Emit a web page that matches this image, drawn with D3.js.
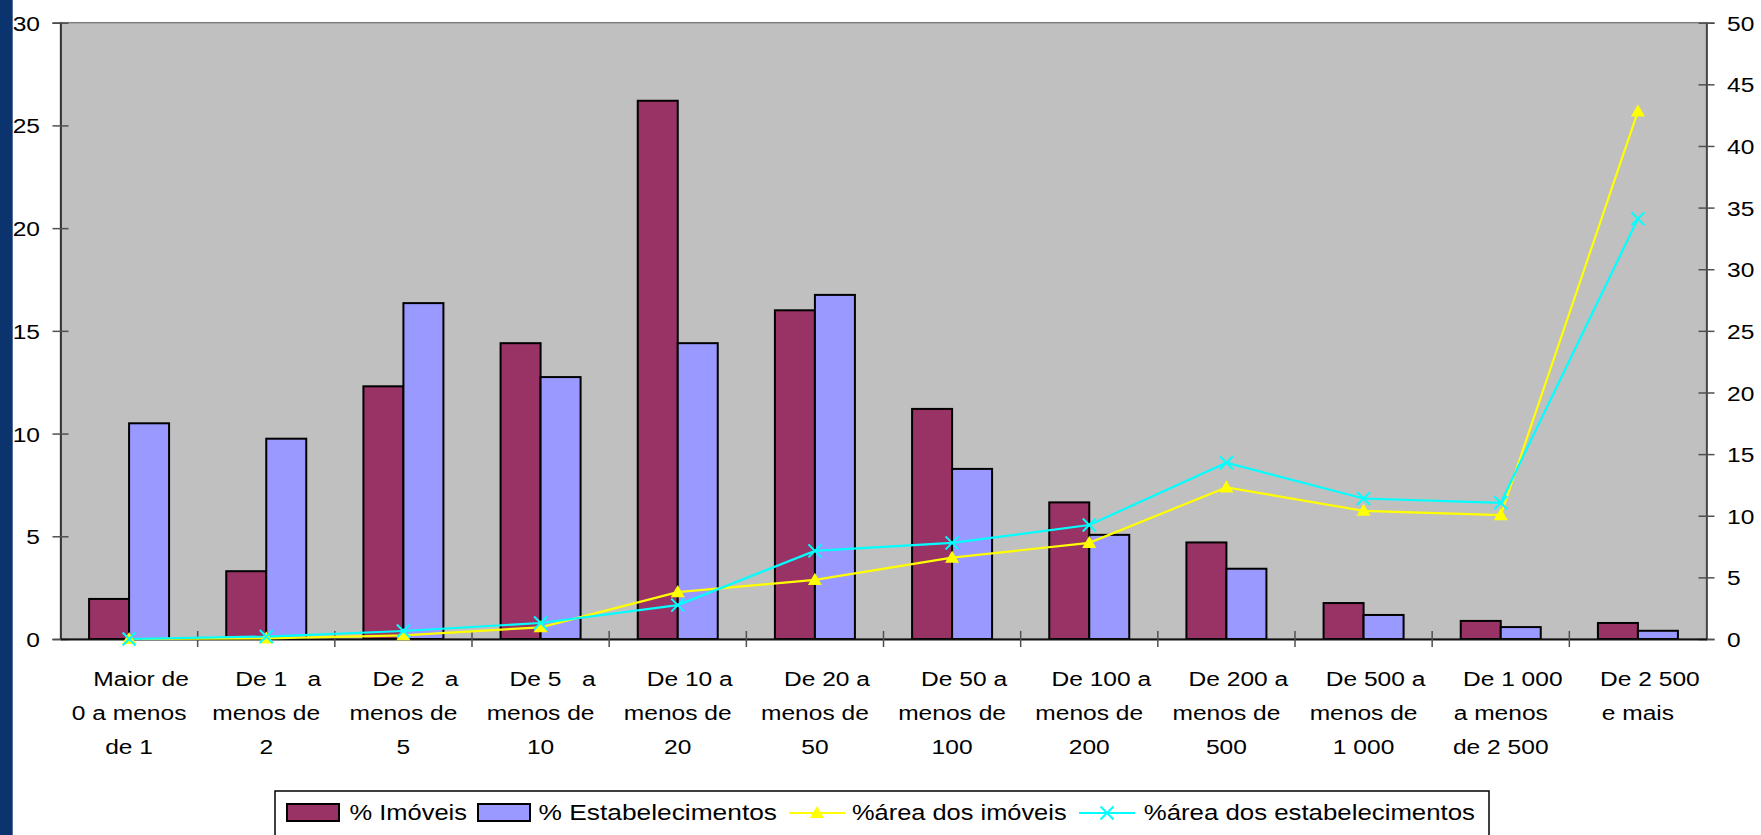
<!DOCTYPE html>
<html><head><meta charset="utf-8">
<script src="https://cdn.jsdelivr.net/npm/d3@7"></script>
<style>
html,body{margin:0;padding:0;background:#fff;overflow:hidden}
text{font-family:"Liberation Sans",Arial,sans-serif;fill:#000;white-space:pre}
</style>
</head><body>
<svg id="c" width="1761" height="835"></svg>
<script>
// ---- data ----
const categories = [
  "Maior de|0 a menos|de 1",
  "De 1   a|menos de|2",
  "De 2   a|menos de|5",
  "De 5   a|menos de|10",
  "De 10 a|menos de|20",
  "De 20 a|menos de|50",
  "De 50 a|menos de|100",
  "De 100 a|menos de|200",
  "De 200 a|menos de|500",
  "De 500 a|menos de|1 000",
  "De 1 000|a menos|de 2 500",
  "De 2 500|e mais"
];
const leftTicks = [0, 5, 10, 15, 20, 25, 30];
const rightTicks = [0, 5, 10, 15, 20, 25, 30, 35, 40, 45, 50];
const pctImoveis = [1.95, 3.3, 12.3, 14.4, 26.2, 16.0, 11.2, 6.65, 4.7, 1.75, 0.88, 0.78];
const pctEstab = [10.5, 9.75, 16.35, 12.75, 14.4, 16.75, 8.28, 5.07, 3.42, 1.17, 0.58, 0.4];
const areaImoveis = [0.0, 0.05, 0.3, 0.95, 3.8, 4.8, 6.6, 7.8, 12.3, 10.4, 10.05, 42.8];
const areaEstab = [0.0, 0.2, 0.65, 1.3, 2.75, 7.15, 7.8, 9.25, 14.3, 11.4, 11.05, 34.1];
const seriesNames = ["% Imóveis", "% Estabelecimentos", "%área dos imóveis", "%área dos estabelecimentos"];
const colors = {im: "#993366", es: "#9999ff", ai: "#ffff00", ae: "#00ffff"};

// ---- layout ----
const W = 1761, H = 835;
const P = {l: 60.5, t: 22.7, r: 1706.5, b: 639};
const SX = 1.17, FS = 21;
const svg = d3.select("#c");

svg.append("rect").attr("x", 0).attr("y", 0).attr("width", 12.7).attr("height", H).attr("fill", "#0b346e");

const x0 = d3.scaleBand().domain(d3.range(categories.length)).range([P.l, P.r]).padding(0);
const x1 = d3.scaleBand().domain(["im", "es"]).range([(x0.bandwidth() - 80) / 2, (x0.bandwidth() + 80) / 2]);
const yL = d3.scaleLinear().domain([0, 30]).range([P.b, P.t]);
const yR = d3.scaleLinear().domain([0, 50]).range([P.b, P.t]);

svg.append("rect").attr("x", P.l).attr("y", P.t).attr("width", P.r - P.l).attr("height", P.b - P.t)
  .attr("fill", "#c0c0c0").attr("stroke", "#808080").attr("stroke-width", 1.5);

// bars
const groups = svg.append("g").selectAll("g").data(categories).join("g")
  .attr("transform", (d, i) => `translate(${x0(i)},0)`);
groups.append("rect").attr("x", x1("im")).attr("width", x1.bandwidth())
  .attr("y", (d, i) => yL(pctImoveis[i])).attr("height", (d, i) => yL(0) - yL(pctImoveis[i]))
  .attr("fill", colors.im).attr("stroke", "#000").attr("stroke-width", 2);
groups.append("rect").attr("x", x1("es")).attr("width", x1.bandwidth())
  .attr("y", (d, i) => yL(pctEstab[i])).attr("height", (d, i) => yL(0) - yL(pctEstab[i]))
  .attr("fill", colors.es).attr("stroke", "#000").attr("stroke-width", 2);

// left axis
const gL = svg.append("g").attr("transform", `translate(${P.l},0)`)
  .call(d3.axisLeft(yL).tickValues(leftTicks).tickSize(8));
gL.select(".domain").attr("stroke", "#1a1a1a").attr("stroke-width", 1.5);
gL.selectAll(".tick line").attr("x1", 8).attr("x2", -8).attr("stroke", "#505050").attr("stroke-width", 1.5);
gL.selectAll(".tick text").attr("x", 0).attr("dy", "0.36em").attr("font-size", FS)
  .attr("text-anchor", "end").attr("transform", `translate(-20.5,0) scale(${SX},1)`);

// right axis
const gR = svg.append("g").attr("transform", `translate(${P.r},0)`)
  .call(d3.axisRight(yR).tickValues(rightTicks).tickSize(8));
gR.select(".domain").attr("stroke", "#303030").attr("stroke-width", 1.5);
gR.selectAll(".tick line").attr("x1", -8).attr("x2", 8).attr("stroke", "#505050").attr("stroke-width", 1.5);
gR.selectAll(".tick text").attr("x", 0).attr("dy", "0.36em").attr("font-size", FS)
  .attr("text-anchor", "start").attr("transform", `translate(20.5,0) scale(${SX},1)`);

// bottom axis with category labels
const gB = svg.append("g").attr("transform", `translate(0,${P.b})`)
  .call(d3.axisBottom(x0).tickSize(0).tickFormat(""));
gB.select(".domain").attr("stroke", "#111").attr("stroke-width", 2);
const baselines = [46.5, 80.5, 114.5];
gB.selectAll(".tick").each(function (d) {
  const lines = categories[d].split("|");
  const g = d3.select(this);
  lines.forEach((ln, j) => {
    g.append("text").attr("font-size", FS).attr("text-anchor", "middle")
      .attr("transform", `translate(${j === 0 ? 12 : 0},${baselines[j]}) scale(${SX},1)`)
      .text(ln);
  });
});
// boundary ticks
gB.append("g").selectAll("line").data(d3.range(1, categories.length)).join("line")
  .attr("x1", i => x0(i)).attr("x2", i => x0(i)).attr("y1", -8).attr("y2", 8)
  .attr("stroke", "#505050").attr("stroke-width", 1.5);

// lines
const cx = i => x0(i) + x0.bandwidth() / 2;
const line = d3.line().x((d, i) => cx(i)).y(d => yR(d));
svg.append("path").datum(areaImoveis).attr("d", line).attr("fill", "none")
  .attr("stroke", colors.ai).attr("stroke-width", 2.2);
svg.append("path").datum(areaEstab).attr("d", line).attr("fill", "none")
  .attr("stroke", colors.ae).attr("stroke-width", 2.2);
const tri = d3.symbol(d3.symbolTriangle).size(85);
svg.append("g").selectAll("path").data(areaImoveis).join("path")
  .attr("d", tri).attr("transform", (d, i) => `translate(${cx(i)},${yR(d) + 1})`).attr("fill", colors.ai);
const xMark = "M-6.5,-6.5L6.5,6.5M-6.5,6.5L6.5,-6.5";
svg.append("g").selectAll("path").data(areaEstab).join("path")
  .attr("d", xMark).attr("transform", (d, i) => `translate(${cx(i)},${yR(d)})`)
  .attr("stroke", colors.ae).attr("stroke-width", 2).attr("fill", "none");

// legend
const lg = svg.append("g");
lg.append("rect").attr("x", 275).attr("y", 791).attr("width", 1214).attr("height", 70)
  .attr("fill", "#fff").attr("stroke", "#000").attr("stroke-width", 1.5);
const lfs = 22, lb = 820;
lg.append("rect").attr("x", 287).attr("y", 804).attr("width", 52).attr("height", 17)
  .attr("fill", colors.im).attr("stroke", "#000").attr("stroke-width", 2);
lg.append("text").attr("x", 349.5).attr("y", lb).attr("font-size", lfs)
  .attr("textLength", 117.5).attr("lengthAdjust", "spacingAndGlyphs").text(seriesNames[0]);
lg.append("rect").attr("x", 478).attr("y", 804).attr("width", 52).attr("height", 17)
  .attr("fill", colors.es).attr("stroke", "#000").attr("stroke-width", 2);
lg.append("text").attr("x", 538.5).attr("y", lb).attr("font-size", lfs)
  .attr("textLength", 238.5).attr("lengthAdjust", "spacingAndGlyphs").text(seriesNames[1]);
lg.append("line").attr("x1", 789).attr("x2", 845).attr("y1", 813).attr("y2", 813)
  .attr("stroke", colors.ai).attr("stroke-width", 2.2);
lg.append("path").attr("d", tri).attr("transform", "translate(817,814)").attr("fill", colors.ai);
lg.append("text").attr("x", 852).attr("y", lb).attr("font-size", lfs)
  .attr("textLength", 214.6).attr("lengthAdjust", "spacingAndGlyphs").text(seriesNames[2]);
lg.append("line").attr("x1", 1079).attr("x2", 1135).attr("y1", 813).attr("y2", 813)
  .attr("stroke", colors.ae).attr("stroke-width", 2.2);
lg.append("path").attr("d", xMark).attr("transform", "translate(1107,813)")
  .attr("stroke", colors.ae).attr("stroke-width", 2).attr("fill", "none");
lg.append("text").attr("x", 1143.7).attr("y", lb).attr("font-size", lfs)
  .attr("textLength", 331.3).attr("lengthAdjust", "spacingAndGlyphs").text(seriesNames[3]);
</script>
</body></html>
